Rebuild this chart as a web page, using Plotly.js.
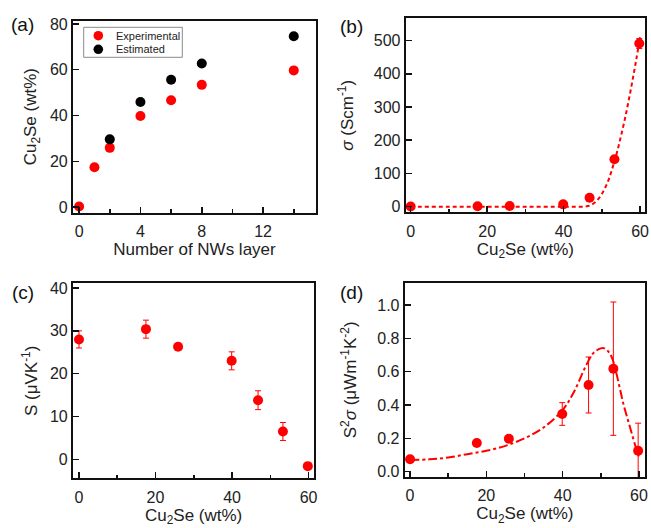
<!DOCTYPE html>
<html>
<head>
<meta charset="utf-8">
<script src="https://cdn.plot.ly/plotly-3.0.1.min.js"></script>
<style>html,body{margin:0;padding:0;background:#fff;}#chart{width:651px;height:528px;}</style>
</head>
<body>
<div id="chart"></div>
<script>
// ---- Data ----
// (a) Cu2Se content vs number of NW layers
const layersExp = [0, 1, 2, 4, 6, 8, 14];
const cu2seExp = [0.3, 17.4, 25.9, 39.8, 46.7, 53.4, 59.7];
const layersEst = [2, 4, 6, 8, 14];
const cu2seEst = [29.6, 45.9, 55.6, 62.7, 74.6];
const seriesNames = ['Experimental', 'Estimated'];

// shared x for (b),(c),(d): Cu2Se wt%
const cu2seWt = [0, 17.5, 25.9, 39.9, 46.8, 53.3, 59.8];

// (b) electrical conductivity
const sigma = [0.5, 1, 2, 7, 27, 143, 491];
const sigmaErr = [0, 0, 0, 0, 0, 0, 15];
const sigmaFitX = [0, 10, 20, 30, 40, 45, 46, 47, 48, 49, 50, 51, 52, 53, 54, 55, 56, 57, 58, 59, 60];
const sigmaFitY = [0, 0, 0, 0, 0, 0, 1, 4, 11, 22, 38, 60, 88, 125, 165, 212, 262, 318, 378, 442, 510];

// (c) Seebeck coefficient
const seebeck = [28, 30.4, 26.3, 23, 13.8, 6.5, -1.6];
const seebeckErr = [2, 2.1, 0.4, 2.1, 2.2, 2.1, 0.4];

// (d) power factor
const pf = [0.075, 0.172, 0.197, 0.346, 0.52, 0.618, 0.126];
const pfErr = [0.008, 0.008, 0.008, 0.068, 0.168, 0.40, 0.165];
const pfFitX = [0, 5, 10, 15, 20, 25, 30, 35, 40, 43, 46, 48, 50, 51, 52, 53, 54, 55, 56, 57, 58, 59, 60];
const pfFitY = [0.07, 0.074, 0.085, 0.105, 0.125, 0.155, 0.2, 0.265, 0.37, 0.48, 0.63, 0.71, 0.74, 0.74, 0.72, 0.68, 0.6, 0.5, 0.4, 0.32, 0.24, 0.16, 0.09];

// tick labels
const ticksA = [0, 4, 8, 12];
const ticksCu = [0, 20, 40, 60];

const RED = '#ff0000';
const FONT = 'Liberation Sans, Arial, sans-serif';
const MS = 10;

const traces = [
  {x: layersExp, y: cu2seExp, type: 'scatter', mode: 'markers', name: seriesNames[0], showlegend: false,
   marker: {color: RED, size: MS}, xaxis: 'x', yaxis: 'y'},
  {x: layersEst, y: cu2seEst, type: 'scatter', mode: 'markers', name: seriesNames[1], showlegend: false,
   marker: {color: '#000', size: MS}, xaxis: 'x', yaxis: 'y'},

  {x: sigmaFitX, y: sigmaFitY, type: 'scatter', mode: 'lines', showlegend: false,
   line: {color: RED, width: 2, dash: '4px,3px', shape: 'spline'}, xaxis: 'x2', yaxis: 'y2'},
  {x: cu2seWt, y: sigma, type: 'scatter', mode: 'markers', showlegend: false,
   error_y: {type: 'data', array: sigmaErr, color: RED, thickness: 1, width: 3},
   marker: {color: RED, size: MS}, xaxis: 'x2', yaxis: 'y2'},

  {x: cu2seWt, y: seebeck, type: 'scatter', mode: 'markers', showlegend: false,
   error_y: {type: 'data', array: seebeckErr, color: RED, thickness: 1, width: 3},
   marker: {color: RED, size: MS}, xaxis: 'x3', yaxis: 'y3'},

  {x: pfFitX, y: pfFitY, type: 'scatter', mode: 'lines', showlegend: false,
   line: {color: RED, width: 2, dash: 'dashdot', shape: 'spline'}, xaxis: 'x4', yaxis: 'y4'},
  {x: cu2seWt, y: pf, type: 'scatter', mode: 'markers', showlegend: false,
   error_y: {type: 'data', array: pfErr, color: RED, thickness: 1, width: 3},
   marker: {color: RED, size: MS}, xaxis: 'x4', yaxis: 'y4'}
];

function ax(extra) {
  return Object.assign({
    showline: true, linewidth: 2, linecolor: '#111', mirror: true,
    ticks: 'inside', ticklen: 6, tickwidth: 1.5, tickcolor: '#111',
    showgrid: false, zeroline: false, automargin: false,
    tickfont: {family: FONT, size: 16, color: '#222'}
  }, extra);
}
function minor(d) { return {ticks: 'inside', ticklen: 3.5, tickwidth: 1.5, tickcolor: '#111', dtick: d, showgrid: false}; }
const tfont = {family: FONT, size: 17, color: '#222'};

// custom compact legend for panel (a)
const W = 651, H = 528;
const px = v => v / W, py = v => 1 - v / H;
const legendShapes = [
  {type: 'rect', xref: 'paper', yref: 'paper', x0: px(83.7), x1: px(182.3), y0: py(57.3), y1: py(27.3),
   line: {color: '#8a8a8a', width: 1}, fillcolor: '#fff', layer: 'above'},
  {type: 'circle', xref: 'paper', yref: 'paper', xsizemode: 'pixel', ysizemode: 'pixel',
   xanchor: px(98.3), yanchor: py(35.7), x0: -4.8, x1: 4.8, y0: -4.8, y1: 4.8,
   fillcolor: RED, line: {width: 0}, layer: 'above'},
  {type: 'circle', xref: 'paper', yref: 'paper', xsizemode: 'pixel', ysizemode: 'pixel',
   xanchor: px(98.3), yanchor: py(49.3), x0: -4.8, x1: 4.8, y0: -4.8, y1: 4.8,
   fillcolor: '#000', line: {width: 0}, layer: 'above'}
];
const lfont = {family: FONT, size: 11, color: '#222'};

const layout = {
  width: W, height: H,
  margin: {l: 0, r: 0, t: 0, b: 0},
  paper_bgcolor: '#fff', plot_bgcolor: '#fff',
  font: {family: FONT, color: '#222'},
  showlegend: false,
  xaxis: ax({domain: [0.1121, 0.4854], range: [-0.4, 15.45], tickvals: ticksA, minor: minor(2), anchor: 'y', ticklabelstandoff: 3,
             title: {text: 'Number of NWs layer', font: tfont, standoff: 1}}),
  yaxis: ax({domain: [0.5972, 0.9608], range: [-2.4, 81.4], dtick: 20, anchor: 'x',
             title: {text: 'Cu<sub>2</sub>Se (wt%)', font: tfont, standoff: 9}}),
  xaxis2: ax({domain: [0.6232, 0.9908], range: [-1.3, 61.3], tickvals: ticksCu, minor: minor(10), anchor: 'y2', ticklabelstandoff: 3,
             title: {text: 'Cu<sub>2</sub>Se (wt%)', font: tfont, standoff: 1}}),
  yaxis2: ax({domain: [0.5979, 0.9653], range: [-17, 567], dtick: 100, anchor: 'x2',
             title: {text: '<i>σ</i> (Scm<sup>-1</sup>)', font: tfont, standoff: 16}}),
  xaxis3: ax({domain: [0.1121, 0.4828], range: [-1.57, 61.5], tickvals: ticksCu, minor: minor(10), anchor: 'y3', ticklabelstandoff: 3,
             title: {text: 'Cu<sub>2</sub>Se (wt%)', font: tfont, standoff: 1}}),
  yaxis3: ax({domain: [0.0941, 0.4634], range: [-4.44, 41.1], dtick: 10, anchor: 'x3',
             title: {text: 'S (μVK<sup>-1</sup>)', font: tfont, standoff: 8}}),
  xaxis4: ax({domain: [0.6217, 0.9908], range: [-1.4, 61.6], tickvals: ticksCu, minor: minor(10), anchor: 'y4', ticklabelstandoff: 3,
             title: {text: 'Cu<sub>2</sub>Se (wt%)', font: tfont, standoff: 1}}),
  yaxis4: ax({domain: [0.0966, 0.4646], range: [-0.032, 1.134], dtick: 0.2, tickformat: '.1f', anchor: 'x4',
             title: {text: 'S<sup>2</sup><i>σ</i> (μWm<sup>-1</sup>K<sup>-2</sup>)', font: tfont, standoff: 16}}),
  shapes: legendShapes,
  annotations: [
    {text: '(a)', xref: 'paper', yref: 'paper', x: 0.0353, y: 0.9527, xanchor: 'center', yanchor: 'middle', showarrow: false, font: {family: FONT, size: 19, color: '#111'}},
    {text: '(b)', xref: 'paper', yref: 'paper', x: 0.5392, y: 0.9489, xanchor: 'center', yanchor: 'middle', showarrow: false, font: {family: FONT, size: 19, color: '#111'}},
    {text: '(c)', xref: 'paper', yref: 'paper', x: 0.0353, y: 0.4451, xanchor: 'center', yanchor: 'middle', showarrow: false, font: {family: FONT, size: 19, color: '#111'}},
    {text: '(d)', xref: 'paper', yref: 'paper', x: 0.5392, y: 0.4451, xanchor: 'center', yanchor: 'middle', showarrow: false, font: {family: FONT, size: 19, color: '#111'}},
    {text: seriesNames[0], xref: 'paper', yref: 'paper', x: px(114), y: py(35.7), xanchor: 'left', yanchor: 'middle', showarrow: false, font: lfont},
    {text: seriesNames[1], xref: 'paper', yref: 'paper', x: px(114), y: py(49.3), xanchor: 'left', yanchor: 'middle', showarrow: false, font: lfont}
  ]
};

Plotly.newPlot('chart', traces, layout, {staticPlot: true, displayModeBar: false});
</script>
</body>
</html>
